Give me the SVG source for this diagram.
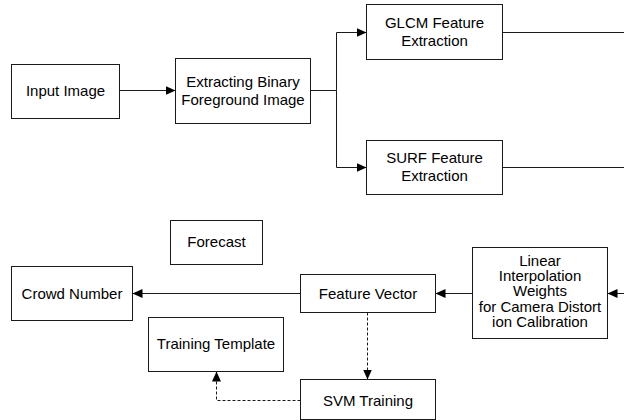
<svg xmlns="http://www.w3.org/2000/svg" width="624" height="420" viewBox="0 0 624 420">
<defs>
<marker id="arr" markerUnits="userSpaceOnUse" markerWidth="11" markerHeight="10" refX="10" refY="5" orient="auto">
<path d="M0,0.5 L10,5 L0,9.5 Z" fill="#000"/>
</marker>
<style>
.box{fill:#fff;stroke:#1a1a1a;stroke-width:1}
.t{font-family:"Liberation Sans",Arial,sans-serif;font-size:15px;fill:#000;text-anchor:middle}
.c{fill:none;stroke:#1a1a1a;stroke-width:1}
.d{stroke-dasharray:3,2}
</style>
</defs>
<rect width="624" height="420" fill="#fff"/>
<g id="connectors">
<path class="c" d="M119.5,90.5 H175.5" marker-end="url(#arr)"/>
<path class="c" d="M311,90.5 H336.5 V32.5 H366.5" marker-end="url(#arr)"/>
<path class="c" d="M336.5,90.5 V167.5 H366.5" marker-end="url(#arr)"/>
<path class="c" d="M502.5,32.5 H624"/>
<path class="c" d="M502.5,167.5 H624"/>
<path class="c" d="M624,293.5 H607.5" marker-end="url(#arr)"/>
<path class="c" d="M472.5,293.5 H435.5" marker-end="url(#arr)"/>
<path class="c" d="M300.5,293.5 H132.5" marker-end="url(#arr)"/>
<path class="c d" d="M367.5,312.5 V379.5" marker-end="url(#arr)"/>
<path class="c d" d="M300.5,400.5 H216.5 V371.5" marker-end="url(#arr)"/>
</g>
<g id="input">
<rect class="box" x="11.5" y="64.5" width="108" height="54"/>
<text class="t" x="65.5" y="96">Input Image</text>
</g>
<g id="extract">
<rect class="box" x="175.5" y="58.5" width="135" height="65"/>
<text class="t" x="243" y="86.5">Extracting Binary</text>
<text class="t" x="243" y="104.5">Foreground Image</text>
</g>
<g id="glcm">
<rect class="box" x="366.5" y="4.5" width="136" height="55"/>
<text class="t" x="434.5" y="27.5">GLCM Feature</text>
<text class="t" x="434.5" y="45.5">Extraction</text>
</g>
<g id="surf">
<rect class="box" x="366.5" y="140.5" width="136" height="54"/>
<text class="t" x="434.5" y="162.5">SURF Feature</text>
<text class="t" x="434.5" y="180.5">Extraction</text>
</g>
<g id="forecast">
<rect class="box" x="170.5" y="220.5" width="92" height="44"/>
<text class="t" x="216.5" y="246.5">Forecast</text>
</g>
<g id="crowd">
<rect class="box" x="11.5" y="266.5" width="121" height="54"/>
<text class="t" x="72" y="298.5">Crowd Number</text>
</g>
<g id="feature">
<rect class="box" x="300.5" y="274.5" width="135" height="38"/>
<text class="t" x="368" y="298.5">Feature Vector</text>
</g>
<g id="linear">
<rect class="box" x="472.5" y="247.5" width="135" height="91"/>
<text class="t" x="540" y="265.5">Linear</text>
<text class="t" x="540" y="281">Interpolation</text>
<text class="t" x="540" y="296.3">Weights</text>
<text class="t" x="540" y="311.6">for Camera Distort</text>
<text class="t" x="540" y="327">ion Calibration</text>
</g>
<g id="template">
<rect class="box" x="148.5" y="317.5" width="135" height="54"/>
<text class="t" x="216" y="348.5">Training Template</text>
</g>
<g id="svm">
<rect class="box" x="300.5" y="379.5" width="135" height="40"/>
<text class="t" x="368" y="405.5">SVM Training</text>
</g>
</svg>
